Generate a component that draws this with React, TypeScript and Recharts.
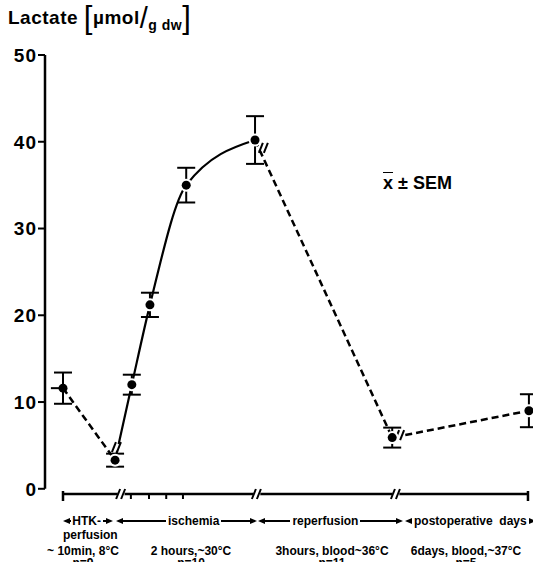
import React from 'react'
import {
  ComposedChart,
  Line,
  Scatter,
  XAxis,
  YAxis,
  ErrorBar,
  ReferenceLine,
  ReferenceDot,
} from 'recharts'

// position along the broken time axis (0 = start, 100 = end)
const positions = [0, 11.2, 14.8, 18.7, 26.5, 41.3, 70.8, 100.2]
const lactate = [11.6, 3.3, 12.0, 21.2, 35.0, 40.2, 5.9, 9.0]
const sem = [1.8, 0.75, 1.15, 1.4, 2.0, 2.75, 1.15, 1.9]
const yTicks = [0, 10, 20, 30, 40, 50]
const axisTicks = [0, 14.6, 18.5, 22.2, 25.8, 100]
const axisBreaks = [12.5, 41.7, 71.6]
const lineBreakX = [11.6, 43.2, 72.5]
const lineBreakY = [4.8, 39.3, 6.2]
const stubStart = -2.6
const phaseLabels = ['HTK-', 'ischemia', 'reperfusion', 'postoperative  days']
const conditions = ['~ 10min, 8°C', '2 hours,~30°C', '3hours, blood~36°C', '6days, blood,~37°C']
const counts = ['n=9', 'n=10', 'n=11', 'n=5']

const X_MIN = -3.87
const X_MAX = 101.08
const Y_AXIS_MIN = -0.6

const points = positions.map((x, i) => ({ x, y: lactate[i], err: sem[i] }))
const stub = [{ x: stubStart, y: lactate[0] }, points[0]]
const leadIn = points.slice(0, 2)
const ischemiaCurve = points.slice(1, 6)
const afterwards = points.slice(5, 8)

const FONT = '"Liberation Sans", Arial, Helvetica, sans-serif'

function BreakMark(props: any) {
  const { cx, cy } = props
  if (cx == null || cy == null) return <g />
  return (
    <g>
      <circle cx={cx} cy={cy} r={3.5} fill="#fff" />
      <line x1={cx - 5} y1={cy + 5} x2={cx - 1} y2={cy - 5} stroke="#000" strokeWidth={2} />
      <line x1={cx} y1={cy + 5} x2={cx + 4} y2={cy - 5} stroke="#000" strokeWidth={2} />
    </g>
  )
}

function AxisTick(props: any) {
  const { cx, cy, payload } = props
  if (cx == null || cy == null) return <g />
  const big = payload === 'end'
  return (
    <line
      x1={cx}
      x2={cx}
      y1={big ? cy - 3 : cy}
      y2={big ? cy + 7 : cy + 5}
      stroke="#000"
      strokeWidth={big ? 2.5 : 2}
    />
  )
}

function Head({ dir }: { dir: 'left' | 'right' }) {
  return (
    <div
      style={{
        width: 0,
        height: 0,
        borderTop: '3px solid transparent',
        borderBottom: '3px solid transparent',
        [dir === 'left' ? 'borderRight' : 'borderLeft']: '7px solid #000',
      }}
    />
  )
}

function PhaseArrow({
  left,
  width,
  label,
  lead,
  trail,
}: {
  left: number
  width: number
  label: string
  lead: number
  trail: number
}) {
  return (
    <div
      style={{
        position: 'absolute',
        left,
        top: 513,
        width,
        height: 16,
        display: 'flex',
        alignItems: 'center',
      }}
    >
      <Head dir="left" />
      <div style={{ flex: lead, height: 1.5, background: '#000' }} />
      <span style={{ padding: '0 2px', whiteSpace: 'pre' }}>{label}</span>
      <div style={{ flex: trail, height: 1.5, background: '#000' }} />
      <Head dir="right" />
    </div>
  )
}

const rowCenters = [83, 191, 332, 466]

export default function App() {
  return (
    <div
      style={{
        position: 'absolute',
        left: 0,
        top: 0,
        width: 533,
        height: 562,
        overflow: 'hidden',
        background: '#fff',
        fontFamily: FONT,
        fontWeight: 700,
        color: '#000',
      }}
    >
      <ComposedChart
        width={533}
        height={562}
        margin={{ top: 55, right: 0, bottom: 68, left: 0 }}
        style={{ position: 'absolute', left: 0, top: 0 }}
      >
        <XAxis
          dataKey="x"
          type="number"
          domain={[X_MIN, X_MAX]}
          allowDataOverflow
          height={0}
          hide
        />
        <YAxis
          type="number"
          domain={[Y_AXIS_MIN, 50]}
          ticks={yTicks}
          width={45}
          axisLine={false}
          tickSize={7}
          tickMargin={1}
          tickLine={{ stroke: '#000', strokeWidth: 2 }}
          tick={{ fontSize: 19, fontWeight: 700, fill: '#000', fontFamily: FONT, letterSpacing: 1 }}
        />
        <ReferenceLine
          segment={[
            { x: X_MIN, y: 0 },
            { x: X_MIN, y: 50 },
          ]}
          stroke="#000"
          strokeWidth={2.5}
          ifOverflow="visible"
        />
        <ReferenceLine
          segment={[
            { x: 0, y: Y_AXIS_MIN },
            { x: 100, y: Y_AXIS_MIN },
          ]}
          stroke="#000"
          strokeWidth={2.5}
          ifOverflow="visible"
        />
        {axisTicks.map((t, i) => (
          <ReferenceDot
            key={'at' + t}
            x={t}
            y={Y_AXIS_MIN}
            ifOverflow="visible"
            shape={(p: any) => (
              <AxisTick {...p} payload={i === 0 || i === axisTicks.length - 1 ? 'end' : 'mid'} />
            )}
          />
        ))}
        {axisBreaks.map((b) => (
          <ReferenceDot
            key={'ab' + b}
            x={b}
            y={Y_AXIS_MIN}
            ifOverflow="visible"
            shape={(p: any) => <BreakMark {...p} />}
          />
        ))}

        <Line
          data={stub}
          dataKey="y"
          type="linear"
          stroke="#000"
          strokeWidth={2}
          dot={false}
          isAnimationActive={false}
        />
        <Line
          data={leadIn}
          dataKey="y"
          type="linear"
          stroke="#000"
          strokeWidth={2.5}
          strokeDasharray="7 4"
          dot={false}
          isAnimationActive={false}
        />
        <Line
          data={ischemiaCurve}
          dataKey="y"
          type="monotone"
          stroke="#000"
          strokeWidth={2.2}
          dot={false}
          isAnimationActive={false}
        />
        <Line
          data={afterwards}
          dataKey="y"
          type="linear"
          stroke="#000"
          strokeWidth={2.5}
          strokeDasharray="7 4"
          dot={false}
          isAnimationActive={false}
        />
        {lineBreakX.map((bx, i) => (
          <ReferenceDot
            key={'lb' + i}
            x={bx}
            y={lineBreakY[i]}
            ifOverflow="visible"
            shape={(p: any) => <BreakMark {...p} />}
          />
        ))}

        {/* white halo so the curves stop short of the markers */}
        <Scatter
          data={points.slice(1)}
          dataKey="y"
          isAnimationActive={false}
          shape={(p: any) => <circle cx={p.cx} cy={p.cy} r={6.5} fill="#fff" />}
        />
        <Scatter
          data={points}
          dataKey="y"
          isAnimationActive={false}
          shape={(p: any) => <circle cx={p.cx} cy={p.cy} r={4.5} fill="#000" />}
        >
          <ErrorBar dataKey="err" direction="y" width={9} stroke="#000" strokeWidth={2} />
        </Scatter>
      </ComposedChart>

      {/* y-axis title */}
      <div
        style={{
          position: 'absolute',
          left: 8,
          top: 4,
          fontSize: 19,
          letterSpacing: 0.5,
          whiteSpace: 'nowrap',
          display: 'flex',
          alignItems: 'center',
          height: 28,
        }}
      >
        <span>Lactate&nbsp;</span>
        <span style={{ fontSize: 31, fontWeight: 400, lineHeight: '30px' }}>[</span>
        <span>µmol</span>
        <span style={{ fontSize: 29, fontWeight: 400, lineHeight: '28px' }}>/</span>
        <span style={{ fontSize: 14, position: 'relative', top: 7 }}>g dw</span>
        <span style={{ fontSize: 31, fontWeight: 400, lineHeight: '30px' }}>]</span>
      </div>

      <div style={{ position: 'absolute', left: 383, top: 173, fontSize: 18, whiteSpace: 'nowrap' }}>
        <span style={{ textDecoration: 'overline' }}>x</span> ± SEM
      </div>

      <div style={{ fontSize: 12 }}>
        <PhaseArrow left={63} width={52} label={phaseLabels[0]} lead={0.05} trail={0.6} />
        <PhaseArrow left={116} width={141} label={phaseLabels[1]} lead={1.5} trail={1} />
        <PhaseArrow left={258} width={145} label={phaseLabels[2]} lead={1} trail={1.4} />
        <PhaseArrow left={405} width={124} label={phaseLabels[3]} lead={0} trail={0} />
        <div style={{ position: 'absolute', left: 63, top: 529, lineHeight: '13px' }}>perfusion</div>
        {conditions.map((c, i) => (
          <div
            key={c}
            style={{
              position: 'absolute',
              left: rowCenters[i] - 80,
              width: 160,
              top: 545,
              lineHeight: '12px',
              textAlign: 'center',
              whiteSpace: 'nowrap',
            }}
          >
            {c}
          </div>
        ))}
        {counts.map((c, i) => (
          <div
            key={c}
            style={{
              position: 'absolute',
              left: rowCenters[i] - 40,
              width: 80,
              top: 557,
              lineHeight: '12px',
              textAlign: 'center',
            }}
          >
            {c}
          </div>
        ))}
      </div>
    </div>
  )
}
